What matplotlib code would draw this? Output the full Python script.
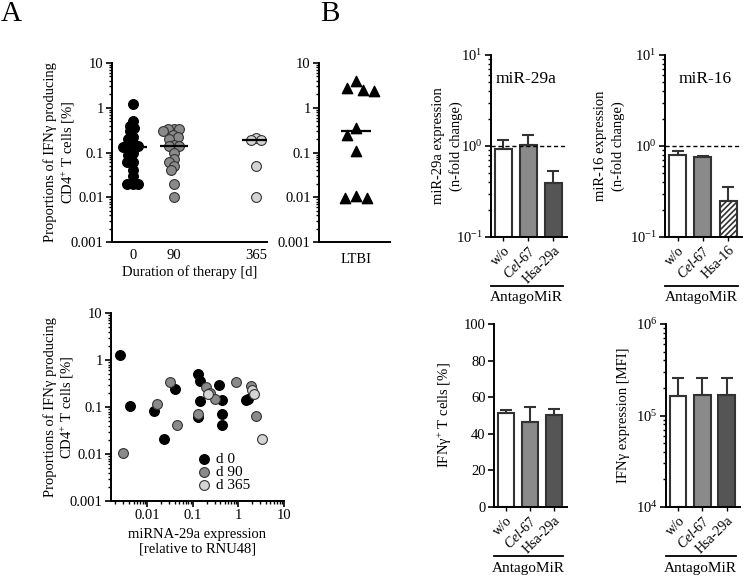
import numpy as np
import matplotlib
matplotlib.use("Agg")
import matplotlib.pyplot as plt
from matplotlib.ticker import FuncFormatter, LogLocator, NullFormatter, LogFormatterMathtext

plt.rcParams.update({
    "font.family": ["Liberation Serif", "DejaVu Serif"],
    "font.size": 10.5,
    "mathtext.fontset": "custom",
    "mathtext.rm": "Liberation Serif",
    "mathtext.it": "Liberation Serif:italic",
    "mathtext.bf": "Liberation Serif:bold",
    "axes.linewidth": 1.4,
    "hatch.linewidth": 1.2,
})

# ---- Panel A (top): IFNg+ CD4+ T cells by duration of therapy ----
DAYS = ["0", "90", "365"]
ifng_d0 = [1.2, 0.5, 0.4, 0.35, 0.3, 0.22, 0.2, 0.16, 0.15, 0.14,
           0.13, 0.1, 0.09, 0.06, 0.06, 0.04, 0.03, 0.02, 0.02, 0.02]
ifng_d90 = [0.33, 0.33, 0.33, 0.3, 0.25, 0.22, 0.2, 0.15, 0.14, 0.14,
            0.1, 0.07, 0.06, 0.05, 0.04, 0.02, 0.01]
ifng_d365 = [0.21, 0.19, 0.19, 0.05, 0.01]
ifng_ltbi = [3.9, 2.8, 2.5, 2.4, 0.35, 0.25, 0.11, 0.0105, 0.0095, 0.0095]

# ---- Panel A (bottom): miR-29a expression vs IFNg producing cells ----
mir_d0 = [0.0025, 0.0041, 0.014, 0.0235, 0.041, 0.128, 0.147, 0.14,
          0.128, 0.38, 0.43, 0.44, 0.43, 1.5, 1.65]
prop_d0 = [1.25, 0.105, 0.082, 0.021, 0.24, 0.51, 0.35, 0.134,
           0.061, 0.30, 0.144, 0.072, 0.042, 0.138, 0.145]
mir_d90 = [0.003, 0.016, 0.031, 0.044, 0.13, 0.19, 0.24, 0.3, 0.9, 1.85, 2.4]
prop_d90 = [0.0105, 0.115, 0.34, 0.042, 0.072, 0.26, 0.2, 0.145, 0.34, 0.275, 0.063]
mir_d365 = [0.22, 2.0, 2.2, 3.3]
prop_d365 = [0.185, 0.23, 0.19, 0.021]

# ---- Panel B: AntagoMiR experiments ----
groups_29a = ["w/o", r"$\mathit{Cel}$-67", "Hsa-29a"]
groups_16 = ["w/o", r"$\mathit{Cel}$-67", "Hsa-16"]
mir29a_mean = [0.93, 1.03, 0.395]
mir29a_sem = [0.23, 0.29, 0.135]
mir16_mean = [0.80, 0.757, 0.25]
mir16_sem = [0.08, 0.025, 0.10]
ifng_pct_mean = [51.4, 46.4, 50.3]
ifng_pct_sem = [1.4, 8.3, 3.4]
ifng_mfi_mean = [1.62e5, 1.68e5, 1.69e5]
ifng_mfi_sem = [0.96e5, 0.90e5, 0.89e5]

W, H = 750, 577
fig = plt.figure(figsize=(W / 100, H / 100), dpi=100)


def add_ax(l, r, t, b):
    return fig.add_axes([l / W, 1 - b / H, (r - l) / W, (b - t) / H])


def style(ax):
    ax.spines["top"].set_visible(False)
    ax.spines["right"].set_visible(False)
    ax.tick_params(which="major", length=4, width=1.2, direction="out", pad=2)
    ax.tick_params(which="minor", length=2.5, width=1.0, direction="out")


def plain_log(ax, axis="y"):
    fmt = FuncFormatter(lambda v, _: f"{v:g}")
    a = ax.yaxis if axis == "y" else ax.xaxis
    a.set_major_locator(LogLocator(base=10, numticks=20))
    a.set_minor_locator(LogLocator(base=10, subs=np.arange(2, 10), numticks=20))
    a.set_major_formatter(fmt)
    a.set_minor_formatter(NullFormatter())


def swarm_x(ax, xc, vals, diam=10.0):
    """Beeswarm x positions (data units) so markers do not overlap."""
    vals = np.asarray(vals, float)
    pts = ax.transData.transform(np.column_stack([np.full(len(vals), xc), vals]))
    y = pts[:, 1]
    x0 = pts[0, 0]
    off = np.zeros(len(vals))
    placed = []
    for i in np.argsort(-y, kind="stable"):
        forbid = []
        for xj, yj in placed:
            dy = y[i] - yj
            if abs(dy) < diam:
                w = np.sqrt(diam ** 2 - dy ** 2)
                forbid.append((xj - w, xj + w))
        cands = sorted([0.0] + [e for iv in forbid for e in iv], key=abs)
        for c in cands:
            if all(not (lo + 1e-6 < c < hi - 1e-6) for lo, hi in forbid):
                off[i] = c
                break
        placed.append((off[i], y[i]))
    inv = ax.transData.inverted()
    return inv.transform(np.column_stack([x0 + off, y]))[:, 0]


YLAB_A = "Proportions of IFN\u03b3 producing\nCD4$^{+}$ T cells [%]"

# ---------------- A top left ----------------
ax = add_ax(112, 267, 63, 242)
style(ax)
ax.set_yscale("log")
ax.set_ylim(1e-3, 10)
ax.set_xlim(-0.51, 3.27)
plain_log(ax)
cat_pos = [0, 1, 3]
grp_style = [("black", "black"), ("#8a8a8a", "#333333"), ("#d4d4d4", "#333333")]
for xc, vals, (fc, ec) in zip(cat_pos, [ifng_d0, ifng_d90, ifng_d365], grp_style):
    xs = swarm_x(ax, xc, vals, diam=5.5)
    ax.scatter(xs, vals, s=50, c=fc, edgecolors=ec, linewidths=0.8, zorder=3)
    ax.hlines(np.median(vals), xc - 0.34, xc + 0.34, color="black", lw=1.6, zorder=4)
ax.set_xticks(cat_pos)
ax.set_xticklabels(DAYS)
ax.tick_params(axis="x", length=0, pad=5)
ax.set_xlabel("Duration of therapy [d]", labelpad=2)
ax.set_ylabel(YLAB_A)
ax.yaxis.set_label_coords(-0.225, 0.5)

# ---------------- A top right (LTBI) ----------------
ax = add_ax(319, 390, 63, 242)
style(ax)
ax.set_yscale("log")
ax.set_ylim(1e-3, 10)
ax.set_xlim(-1, 1)
plain_log(ax)
xs = swarm_x(ax, 0.05, ifng_ltbi, diam=11)
ax.scatter(xs, ifng_ltbi, s=55, marker="^", c="black", zorder=3)
ax.hlines(np.median(ifng_ltbi), 0.05 - 0.42, 0.05 + 0.42, color="black", lw=1.6, zorder=4)
ax.set_xticks([0.05])
ax.set_xticklabels(["LTBI"])
ax.tick_params(axis="x", length=0, pad=8)

# ---------------- A bottom ----------------
ax = add_ax(111, 284, 313, 501)
style(ax)
ax.set_xscale("log")
ax.set_yscale("log")
ax.set_ylim(1e-3, 10)
ax.set_xlim(0.0016, 10)
plain_log(ax, "y")
plain_log(ax, "x")
for xv, yv, (fc, ec), lab in zip([mir_d0, mir_d90, mir_d365],
                                 [prop_d0, prop_d90, prop_d365],
                                 grp_style, ["d 0", "d 90", "d 365"]):
    ax.scatter(xv, yv, s=50, c=fc, edgecolors=ec, linewidths=0.8, zorder=3, label=lab)
ax.legend(loc="upper left", bbox_to_anchor=(0.45, 0.30), frameon=False,
          handlelength=1.0, handletextpad=0.3, labelspacing=-0.05, borderpad=0,
          fontsize=11)
ax.set_xlabel("miRNA-29a expression\n[relative to RNU48]", labelpad=4)
ax.set_ylabel(YLAB_A)
ax.yaxis.set_label_coords(-0.2, 0.5)


# ---------------- B bar panels ----------------
def bar_panel(ax, labels, means, sems, colors, hatches, log, ylim):
    style(ax)
    x = np.arange(len(means))
    if log:
        ax.set_yscale("log")
    base = ylim[0] if log else 0
    for xi, m, c, h in zip(x, means, colors, hatches):
        ax.bar(xi, m - base, width=0.68, color=c, edgecolor="#333333", linewidth=1.5,
               hatch=h, zorder=2, bottom=base)
    ax.errorbar(x, means, yerr=[np.zeros(len(sems)), sems], fmt="none",
                ecolor="#333333", elinewidth=1.5, capsize=4.5, capthick=1.5, zorder=3)
    ax.set_ylim(*ylim)
    ax.set_xlim(-0.5, 2.55)
    ax.set_xticks(x)
    ax.set_xticklabels(labels, rotation=45, ha="right", rotation_mode="anchor",
                       fontsize=10)
    ax.tick_params(axis="x", length=3, width=1.0, pad=2)
    if log:
        ax.yaxis.set_major_locator(LogLocator(base=10, numticks=20))
        ax.yaxis.set_minor_locator(LogLocator(base=10, subs=np.arange(2, 10), numticks=20))
        ax.yaxis.set_major_formatter(LogFormatterMathtext())
        ax.yaxis.set_minor_formatter(NullFormatter())
    ax.plot([0.0, 0.95], [-0.268, -0.268], transform=ax.transAxes,
            clip_on=False, color="black", lw=1.3)
    ax.text(0.47, -0.335, "AntagoMiR", transform=ax.transAxes,
            ha="center", va="center", fontsize=11)


bar_colors = ["white", "#8a8a8a", "#555555"]

ax = add_ax(491, 567, 55, 237)
bar_panel(ax, groups_29a, mir29a_mean, mir29a_sem, bar_colors, [None, None, None],
          True, (0.1, 10))
ax.axhline(1, color="black", lw=1.0, ls=(0, (3, 2)), zorder=4)
ax.text(0.46, 0.87, "miR-29a", transform=ax.transAxes, ha="center", va="center",
        fontsize=12.5)
ax.set_ylabel("miR-29a expression\n(n-fold change)", linespacing=1.4)
ax.yaxis.set_label_coords(-0.37, 0.5)

ax = add_ax(665, 742, 55, 237)
bar_panel(ax, groups_16, mir16_mean, mir16_sem, ["white", "#8a8a8a", "white"],
          [None, None, "//////"], True, (0.1, 10))
ax.axhline(1, color="black", lw=1.0, ls=(0, (3, 2)), zorder=4)
ax.text(0.52, 0.87, "miR-16", transform=ax.transAxes, ha="center", va="center",
        fontsize=12.5)
ax.set_ylabel("miR-16 expression\n(n-fold change)", linespacing=1.4)
ax.yaxis.set_label_coords(-0.52, 0.5)

ax = add_ax(494, 567, 324, 507)
bar_panel(ax, groups_29a, ifng_pct_mean, ifng_pct_sem, bar_colors, [None, None, None],
          False, (0, 100))
ax.set_yticks([0, 20, 40, 60, 80, 100])
ax.set_ylabel("IFN\u03b3$^{+}$ T cells [%]")
ax.yaxis.set_label_coords(-0.55, 0.5)

ax = add_ax(666, 740, 324, 507)
bar_panel(ax, groups_29a, ifng_mfi_mean, ifng_mfi_sem, bar_colors, [None, None, None],
          True, (1e4, 1e6))
ax.set_ylabel("IFN\u03b3 expression [MFI]")
ax.yaxis.set_label_coords(-0.48, 0.5)

fig.text(1 / W, 1 - 1 / H, "A", fontsize=21, va="top", ha="left")
fig.text(320 / W, 1 - 1 / H, "B", fontsize=21, va="top", ha="left")

fig.savefig("out.png", dpi=100)
